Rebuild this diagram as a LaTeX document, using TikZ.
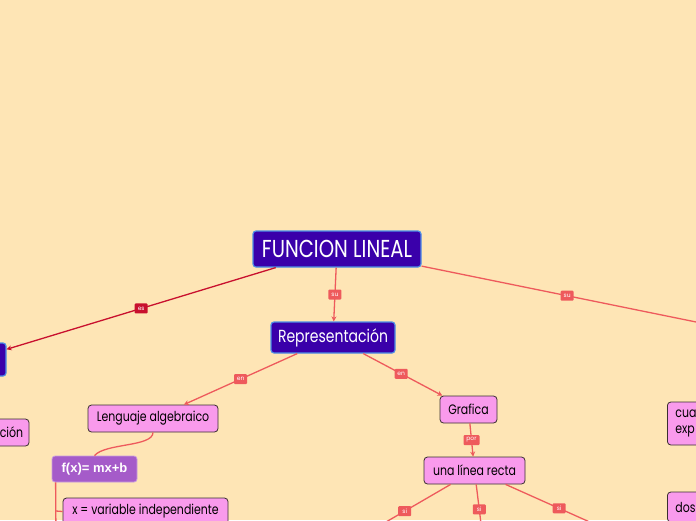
\documentclass[tikz,border=0pt]{standalone}
\usepackage{fontspec}
\usetikzlibrary{arrows.meta}
\newfontfamily\mmfont[FakeStretch=0.8]{Poppins}
\newfontfamily\lblfont{Poppins}
\newfontfamily\arialfont{Liberation Sans}
\definecolor{bg}{HTML}{FEE5B5}
\definecolor{indigo}{HTML}{3A00AA}
\definecolor{edgeblue}{HTML}{4D8FE6}
\definecolor{pinkfill}{HTML}{F99AEC}
\definecolor{purplefill}{HTML}{A55BC9}
\definecolor{salmon}{HTML}{EE5A5C}
\definecolor{crimson}{HTML}{C8102E}
\definecolor{darkedge}{HTML}{3A3030}
\begin{document}
\begin{tikzpicture}[x=1pt,y=-1pt,
  darkbox/.style={draw=edgeblue,line width=1.2pt,fill=indigo,rounded corners=3pt,text=white,inner sep=0pt,font=\mmfont},
  pinkbox/.style={draw=darkedge,line width=0.8pt,fill=pinkfill,rounded corners=3.5pt,text=black,inner sep=0pt,font=\mmfont\fontsize{13.7}{15}\selectfont},
  pinktext/.style={inner sep=0pt,text=black,font=\mmfont\fontsize{13.7}{15}\selectfont},
  fxbox/.style={draw=purplefill!60!white,line width=0.8pt,fill=purplefill,rounded corners=3pt,text=white,inner sep=0pt,font=\arialfont\bfseries\fontsize{13}{15}\selectfont},
  conn/.style={draw=salmon,line width=1.3pt},
  connarrow/.style={conn,-{Stealth[length=5pt,width=5pt]}},
  esarrow/.style={draw=crimson,line width=1.3pt,-{Stealth[length=5pt,width=5pt]}},
  lbl/.style={fill=salmon,text=white,rounded corners=1pt,inner sep=0pt,minimum width=13pt,minimum height=10pt,font=\lblfont\fontsize{6}{6}\selectfont},
  eslbl/.style={lbl,fill=crimson}]
\fill[bg] (0,0) rectangle (696,520);
\useasboundingbox (0,0) rectangle (696,520);

% nodes
\node[darkbox,minimum width=168pt,minimum height=36pt,font=\mmfont\fontsize{24.5}{26}\selectfont] (main) at (337,249) {FUNCION LINEAL};
\node[darkbox,minimum width=124pt,minimum height=31pt,font=\mmfont\fontsize{17.5}{19}\selectfont] (rep) at (333,337.5) {Representación};
\node[darkbox,minimum width=66pt,minimum height=33pt] (leftn) at (-27,359.5) {};
\node[pinkbox,minimum width=70pt,minimum height=27pt] (cion) at (-6,432.5) {};
\node[pinktext,anchor=east] (ciontext) at ([xshift=-6pt]cion.east) {ción};
\node[pinkbox,minimum width=130pt,minimum height=27pt] (leng) at (153,418.5) {Lenguaje algebraico};
\node[fxbox,minimum width=85pt,minimum height=26pt] (fx) at (94.5,469) {f(x)= mx+b};
\node[pinkbox,minimum width=165pt,minimum height=27pt] (xvar) at (145.5,511.5) {x = variable independiente};
\node[pinkbox,minimum width=57pt,minimum height=27pt] (graf) at (468.5,409.5) {Grafica};
\node[pinkbox,minimum width=101pt,minimum height=27pt] (linea) at (474.5,470.5) {una línea recta};
\node[pinkbox,anchor=west,minimum width=80pt,minimum height=43pt,inner xsep=8pt,align=left,text width=64pt,font=\mmfont\fontsize{13.7}{16}\selectfont] (cua) at (667,423.5) {cua\\exp};
\node[pinkbox,anchor=west,minimum width=80pt,minimum height=30pt,inner xsep=8pt,align=left,text width=64pt] (dos) at (667,507) {dos\\[6pt]};

% off-page ends
\coordinate (rightend) at (760,335);
\coordinate (c1) at (355,540);
\coordinate (c2) at (483,540);
\coordinate (c3) at (630,540);
\coordinate (fxdown) at (56,540);

% connectors
\draw[esarrow] (main) -- node[eslbl,pos=0.5] {es} (leftn);
\draw[connarrow] (main) -- node[lbl,pos=0.5] {su} (rep);
\draw[conn] (main) -- node[lbl,pos=0.43] {su} (rightend);
\draw[connarrow] (rep) -- node[lbl,pos=0.5] {en} (leng);
\draw[connarrow] (rep) -- node[lbl,pos=0.48] {en} (graf);
\draw[connarrow] (graf) -- node[lbl,pos=0.5,minimum width=16pt] {por} (linea);
\draw[conn] (linea) -- node[lbl,pos=0.48] {si} (c1);
\draw[conn] (linea) -- node[lbl,pos=0.45] {si} (c2);
\draw[conn] (linea) -- node[lbl,pos=0.43] {si} (c3);
\draw[conn] (leng.south) .. controls (153,447) and (105,443) .. (fx.north);
\draw[conn] ([xshift=4pt]fx.south west) -- (fxdown);
\draw[conn] (56,511) -- (xvar.west);
\end{tikzpicture}
\end{document}
